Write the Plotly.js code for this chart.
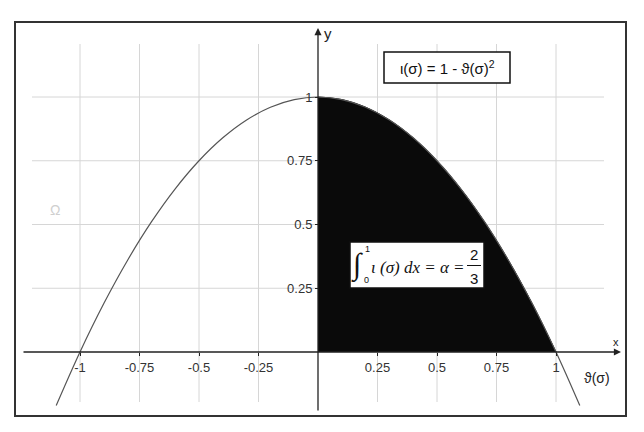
<!DOCTYPE html>
<html><head><meta charset="utf-8">
<script src="https://cdn.plot.ly/plotly-3.0.1.min.js"></script>
<style>html,body{margin:0;padding:0;background:#fff}#chart{width:644px;height:432px}</style>
</head><body><div id="chart"></div>
<script>
// ---- data ----
const curveX = [-1.1,-1.0,-0.9,-0.8,-0.7,-0.6,-0.5,-0.4,-0.3,-0.2,-0.1,0,0.1,0.2,0.3,0.4,0.5,0.6,0.7,0.8,0.9,1.0,1.1];
const curveY = [-0.21,0,0.19,0.36,0.51,0.64,0.75,0.84,0.91,0.96,0.99,1,0.99,0.96,0.91,0.84,0.75,0.64,0.51,0.36,0.19,0,-0.21];
const areaX = [0,0.1,0.2,0.3,0.4,0.5,0.6,0.7,0.8,0.9,1.0];
const areaY = [1,0.99,0.96,0.91,0.84,0.75,0.64,0.51,0.36,0.19,0];
const xTickVals = [-1,-0.75,-0.5,-0.25,0.25,0.5,0.75,1];
const xTickText = ['-1','-0.75','-0.5','-0.25','0.25','0.5','0.75','1'];
const yTickVals = [0.25,0.5,0.75,1];
const yTickText = ['0.25','0.5','0.75','1'];
const formulaText = 'ι(σ) = 1 - ϑ(σ)<sup>2</sup>';
const integralBody = '<i>ι (σ) dx = α =</i>';
const fracNum = '2';
const fracDen = '3';
const xAxisName = 'x';
const yAxisName = 'y';
const xVarLabel = 'ϑ(σ)';
const faintMark = 'Ω';

// ---- geometry helpers (page pixels -> data / paper) ----
const W = 644, H = 432;
const x0px = 318, pxPerX = 238, y0px = 352, pxPerY = 255;
const xmin = -x0px / pxPerX, xmax = (W - x0px) / pxPerX;
const ymax = y0px / pxPerY, ymin = -(H - y0px) / pxPerY;
const X = p => xmin + p / W * (xmax - xmin);
const Y = p => ymax - p / H * (ymax - ymin);
const PY = p => 1 - p / H;
const PX = p => p / W;

const shapes = [];
// grid
xTickVals.forEach(v => shapes.push({type:'line', xref:'x', yref:'paper', x0:v, x1:v, y0:PY(402), y1:PY(44), line:{color:'#d6d6d6', width:1}, layer:'below'}));
yTickVals.forEach(v => shapes.push({type:'line', xref:'paper', yref:'y', x0:PX(32), x1:PX(604), y0:v, y1:v, line:{color:'#d6d6d6', width:1}, layer:'below'}));
// frame
shapes.push({type:'rect', xref:'paper', yref:'paper', x0:PX(15), x1:PX(626), y0:PY(416), y1:PY(22), line:{color:'#333', width:2}, layer:'above'});
// formula boxes
shapes.push({type:'rect', xref:'x', yref:'y', x0:X(384), x1:X(510), y0:Y(83), y1:Y(52), line:{color:'#111', width:1.5}, fillcolor:'#fff', layer:'above'});
shapes.push({type:'rect', xref:'x', yref:'y', x0:X(350), x1:X(484), y0:Y(288), y1:Y(242), line:{color:'#111', width:1.5}, fillcolor:'#fff', layer:'above'});
// fraction bar
shapes.push({type:'line', xref:'x', yref:'y', x0:X(467), x1:X(481), y0:Y(265.5), y1:Y(265.5), line:{color:'#111', width:1}, layer:'above'});

const sans = 'Liberation Sans, Arial, sans-serif';
const serif = 'Liberation Serif, Times New Roman, serif';
const ann = (px, py, text, size, extra) => Object.assign({x:X(px), y:Y(py), xref:'x', yref:'y', text:text, showarrow:false, font:{family:sans, size:size, color:'#111'}}, extra || {});

const annotations = [
  // axis arrows
  {x:0, y:Y(28), ax:0, ay:Y(412), xref:'x', yref:'y', axref:'x', ayref:'y', text:'', showarrow:true, arrowhead:2, arrowsize:1.1, arrowwidth:1.3, arrowcolor:'#222'},
  {x:X(621), y:0, ax:X(22), ay:0, xref:'x', yref:'y', axref:'x', ayref:'y', text:'', showarrow:true, arrowhead:2, arrowsize:1.1, arrowwidth:1.3, arrowcolor:'#222'},
  ann(328, 33, yAxisName, 15, {font:{family:sans, size:15, color:'#222'}}),
  ann(616, 342, xAxisName, 11, {font:{family:sans, size:11, color:'#222'}}),
  ann(597, 378, xVarLabel, 14, {font:{family:sans, size:14, color:'#222'}}),
  ann(55, 210, faintMark, 14, {font:{family:sans, size:14, color:'#cfcfcf'}}),
  ann(447, 67.5, formulaText, 15),
  ann(357, 265, '∫', 30, {font:{family:serif, size:30, color:'#111'}}),
  ann(367, 249, '1', 9),
  ann(366, 280, '0', 9),
  ann(418, 267, integralBody, 17, {font:{family:serif, size:17, color:'#111'}}),
  ann(474, 254, fracNum, 15),
  ann(474, 278, fracDen, 15)
];

const traces = [
  {x:areaX, y:areaY, type:'scatter', mode:'lines', fill:'tozeroy', fillcolor:'#0a0a0a', line:{color:'#0a0a0a', width:1, shape:'spline'}, hoverinfo:'skip'},
  {x:curveX, y:curveY, type:'scatter', mode:'lines', line:{color:'#555', width:1.2, shape:'spline'}, hoverinfo:'skip'}
];

const layout = {
  width:W, height:H, margin:{l:0, r:0, t:0, b:0},
  paper_bgcolor:'#fff', plot_bgcolor:'rgba(0,0,0,0)', showlegend:false,
  xaxis:{range:[xmin, xmax], anchor:'free', position:(0 - ymin) / (ymax - ymin), showgrid:false, zeroline:false, showline:false,
         tickmode:'array', tickvals:xTickVals, ticktext:xTickText, ticks:'outside', ticklen:3, tickcolor:'#222',
         tickfont:{family:sans, size:13, color:'#333'}, automargin:false, fixedrange:true},
  yaxis:{range:[ymin, ymax], anchor:'free', position:(0 - xmin) / (xmax - xmin), showgrid:false, zeroline:false, showline:false,
         tickmode:'array', tickvals:yTickVals, ticktext:yTickText, ticks:'outside', ticklen:3, tickcolor:'#222',
         tickfont:{family:sans, size:13, color:'#333'}, automargin:false, fixedrange:true},
  shapes:shapes, annotations:annotations
};

Plotly.newPlot('chart', traces, layout, {displayModeBar:false, staticPlot:true});
</script>
</body></html>
